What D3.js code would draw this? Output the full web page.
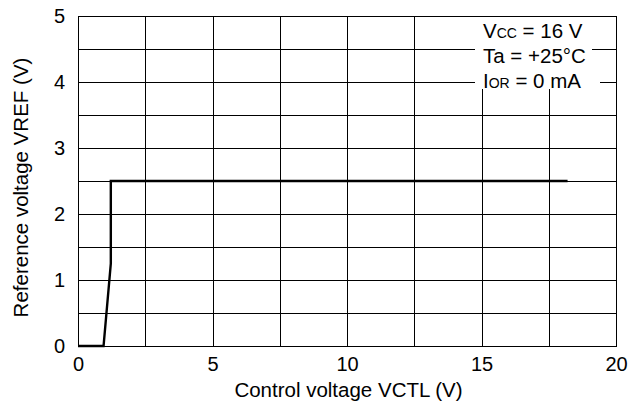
<!DOCTYPE html>
<html><head><meta charset="utf-8">
<script src="https://cdn.jsdelivr.net/npm/d3@7"></script>
<style>body{margin:0;background:#fff}svg{display:block}text{font-family:"Liberation Sans",Arial,sans-serif;fill:#000}</style>
</head><body><svg id="c" width="640" height="412"></svg>
<script>
const xVals = [0, 0.95, 1.22, 1.22, 18.2];
const yVals = [0, 0, 1.25, 2.5, 2.5];
const xTicks = [0, 5, 10, 15, 20];
const yTicks = [0, 1, 2, 3, 4, 5];
const xGrid = [0, 2.5, 5, 7.5, 10, 12.5, 15, 17.5, 20];
const yGrid = [0, 0.5, 1, 1.5, 2, 2.5, 3, 3.5, 4, 4.5, 5];

const svg = d3.select("#c");
const L = 78, R = 616, T = 16, B = 346;
const x = d3.scaleLinear().domain([0, 20]).range([L, R]);
const y = d3.scaleLinear().domain([0, 5]).range([B, T]);
const FF = "Liberation Sans, Arial, sans-serif";

const g = svg.append("g");
g.selectAll(".vg").data(xGrid).join("line")
  .attr("x1", d => Math.round(x(d)) + 0.5).attr("x2", d => Math.round(x(d)) + 0.5)
  .attr("y1", T).attr("y2", B + 1).attr("stroke", "#000").attr("stroke-width", 1);
g.selectAll(".hg").data(yGrid).join("line")
  .attr("y1", d => Math.round(y(d)) + 0.5).attr("y2", d => Math.round(y(d)) + 0.5)
  .attr("x1", L).attr("x2", R + 1).attr("stroke", "#000").attr("stroke-width", 1);

const xAxis = d3.axisBottom(x).tickValues(xTicks).tickFormat(d3.format("d")).tickSize(0).tickPadding(11);
const ax = svg.append("g").attr("transform", `translate(0,${B})`).call(xAxis);
ax.select(".domain").remove();
ax.selectAll("text").attr("font-size", 20).attr("font-family", FF);

const yAxis = d3.axisLeft(y).tickValues(yTicks).tickFormat(d3.format("d")).tickSize(0).tickPadding(13);
const ay = svg.append("g").attr("transform", `translate(${L},0)`).call(yAxis);
ay.select(".domain").remove();
ay.selectAll("text").attr("font-size", 20).attr("font-family", FF);

const pts = xVals.map((v, i) => [v, yVals[i]]);
svg.append("path").datum(pts)
  .attr("d", d3.line().x(d => x(d[0])).y(d => y(d[1])))
  .attr("fill", "none").attr("stroke", "#000").attr("stroke-width", 2.4)
  .attr("stroke-linejoin", "miter");

// condition note: white masks then text
const masks = [[475, 17, 125, 31], [475, 45, 117, 30], [475, 72, 125, 17]];
svg.selectAll(".mask").data(masks).join("rect")
  .attr("x", d => d[0]).attr("y", d => d[1]).attr("width", d => d[2]).attr("height", d => d[3])
  .attr("fill", "#fff");

const notes = [
  {main: "V", sub: "CC", rest: " = 16 V", yy: 38},
  {main: "Ta = +25°C", sub: "", rest: "", yy: 63},
  {main: "I", sub: "OR", rest: " = 0 mA", yy: 88}
];
notes.forEach(n => {
  const t = svg.append("text").attr("x", 483).attr("y", n.yy).attr("font-size", 20.5);
  t.append("tspan").text(n.main);
  if (n.sub) t.append("tspan").attr("font-size", 14).text(n.sub);
  if (n.rest) t.append("tspan").text(n.rest);
});

svg.append("text").attr("x", 348.5).attr("y", 397).attr("text-anchor", "middle")
  .attr("font-size", 20.5).text("Control voltage VCTL (V)");
svg.append("text").attr("transform", `translate(28,187.5) rotate(-90)`)
  .attr("text-anchor", "middle").attr("font-size", 20.5).text("Reference voltage VREF (V)");
</script></body></html>
